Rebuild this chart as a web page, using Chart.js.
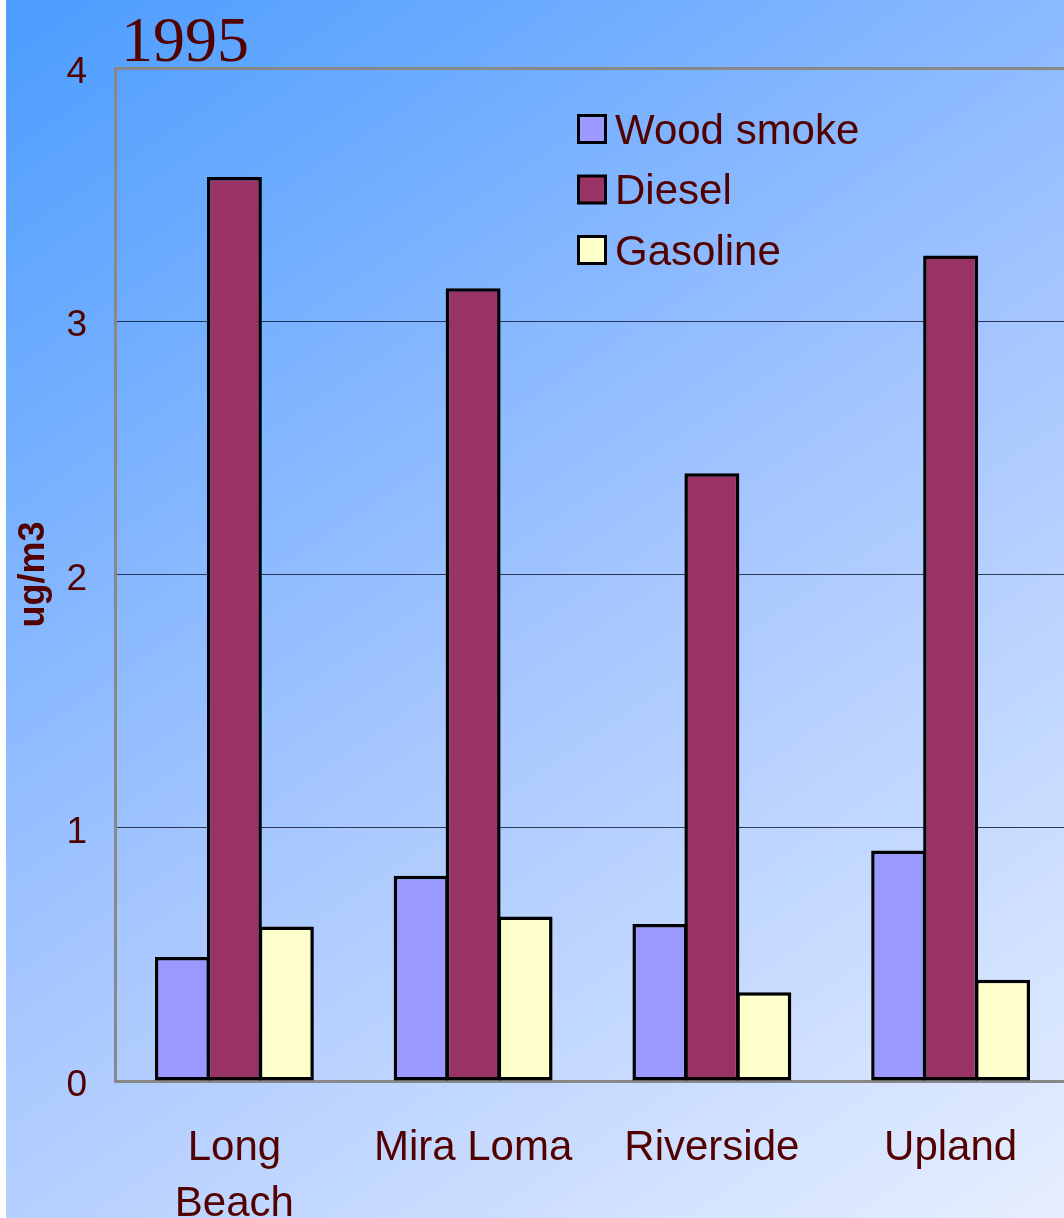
<!DOCTYPE html>
<html>
<head>
<meta charset="utf-8">
<script src="https://cdn.jsdelivr.net/npm/chart.js@4"></script>
<style>
  html, body { margin: 0; padding: 0; background: #fff; overflow: hidden; width: 1064px; height: 1218px; }
  #wrap { position: absolute; left: 6px; top: 0; width: 1064px; height: 1218px; }
</style>
</head>
<body>
<div id="wrap"><canvas id="c" width="1064" height="1218"></canvas></div>
<script>
// Source apportionment of fine particles by site, 1995 (ug/m3)
const categories = ['Long Beach', 'Mira Loma', 'Riverside', 'Upland'];
const seriesNames = ['Wood smoke', 'Diesel', 'Gasoline'];
const woodSmoke = [0.49, 0.81, 0.62, 0.91];
const diesel    = [3.57, 3.13, 2.40, 3.26];
const gasoline  = [0.61, 0.65, 0.35, 0.40];
const yTicks = [0, 1, 2, 3, 4];
const chartTitle = '1995';
const yTitle = 'ug/m3';

const TEXT = '#520000';
const FONT = '"Liberation Sans", Arial, sans-serif';

// gradient backdrop behind the whole figure
const backdrop = {
  id: 'backdrop',
  beforeDraw(chart) {
    const ctx = chart.ctx;
    const g = ctx.createLinearGradient(-6, 0, 931, 1404);
    g.addColorStop(0, '#4a9cff');
    g.addColorStop(0.5, '#a6c6ff');
    g.addColorStop(1, '#eef3ff');
    ctx.save();
    ctx.fillStyle = g;
    ctx.fillRect(0, 0, chart.width, chart.height);
    ctx.restore();
  }
};

// legend boxes inside the plot, plus the year heading
const overlay = {
  id: 'overlay',
  afterDraw(chart) {
    const ctx = chart.ctx;
    ctx.save();
    chart.data.datasets.forEach((ds, i) => {
      const y = 129 + i * 60.5;
      ctx.fillStyle = '#000';
      ctx.fillRect(571, y - 15, 30, 30);
      ctx.fillStyle = ds.backgroundColor;
      ctx.fillRect(574, y - 12, 24, 24);
      ctx.fillStyle = TEXT;
      ctx.font = '42px ' + FONT;
      ctx.textBaseline = 'middle';
      ctx.textAlign = 'left';
      ctx.fillText(ds.label, 609, y + 3);
    });
    ctx.fillStyle = TEXT;
    ctx.font = '64px "Liberation Serif", "Times New Roman", serif';
    ctx.textBaseline = 'alphabetic';
    ctx.textAlign = 'left';
    ctx.fillText(chartTitle, 115, 61);
    ctx.restore();
  }
};

const barStyle = { borderColor: '#000', borderWidth: 3.5, borderSkipped: false,
                   barPercentage: 1.0577, categoryPercentage: 0.653 };

new Chart(document.getElementById('c'), {
  type: 'bar',
  data: {
    labels: categories,
    datasets: [
      Object.assign({ label: seriesNames[0], data: woodSmoke, backgroundColor: '#9999ff' }, barStyle),
      Object.assign({ label: seriesNames[1], data: diesel,    backgroundColor: '#993366' }, barStyle),
      Object.assign({ label: seriesNames[2], data: gasoline,  backgroundColor: '#ffffcc' }, barStyle)
    ]
  },
  plugins: [backdrop, overlay],
  options: {
    responsive: false,
    animation: false,
    layout: { padding: { top: 68, left: 0, right: 0, bottom: 0 } },
    plugins: { legend: { display: false }, title: { display: false }, tooltip: { enabled: false } },
    scales: {
      x: {
        offset: true,
        grid: { display: false },
        border: { display: true, color: '#888', width: 3 },
        ticks: {
          color: TEXT,
          font: { family: FONT, size: 42, lineHeight: 1.32 },
          padding: 32,
          maxRotation: 0,
          autoSkip: false,
          callback(value) {
            const label = this.getLabelForValue(value);
            return label.length > 9 ? label.split(' ') : label;
          }
        },
        afterFit(scale) { scale.height = 137; }
      },
      y: {
        min: 0,
        max: 4,
        afterBuildTicks(scale) { scale.ticks = yTicks.map(v => ({ value: v })); },
        grid: {
          drawTicks: false,
          color: ctx => ctx.tick && ctx.tick.value === 4 ? '#888' : 'rgba(20,30,60,0.85)',
          lineWidth: ctx => ctx.tick && ctx.tick.value === 4 ? 3 : 1
        },
        border: { display: true, color: '#888', width: 3 },
        ticks: {
          color: TEXT,
          font: { family: FONT, size: 37 },
          padding: 28,
          labelOffset: 5
        },
        title: {
          display: true,
          text: yTitle,
          color: TEXT,
          font: { family: FONT, size: 36, weight: 'bold' },
          padding: { top: 6, bottom: 0 }
        },
        afterFit(scale) { scale.width = 109; }
      }
    }
  }
});
</script>
</body>
</html>
